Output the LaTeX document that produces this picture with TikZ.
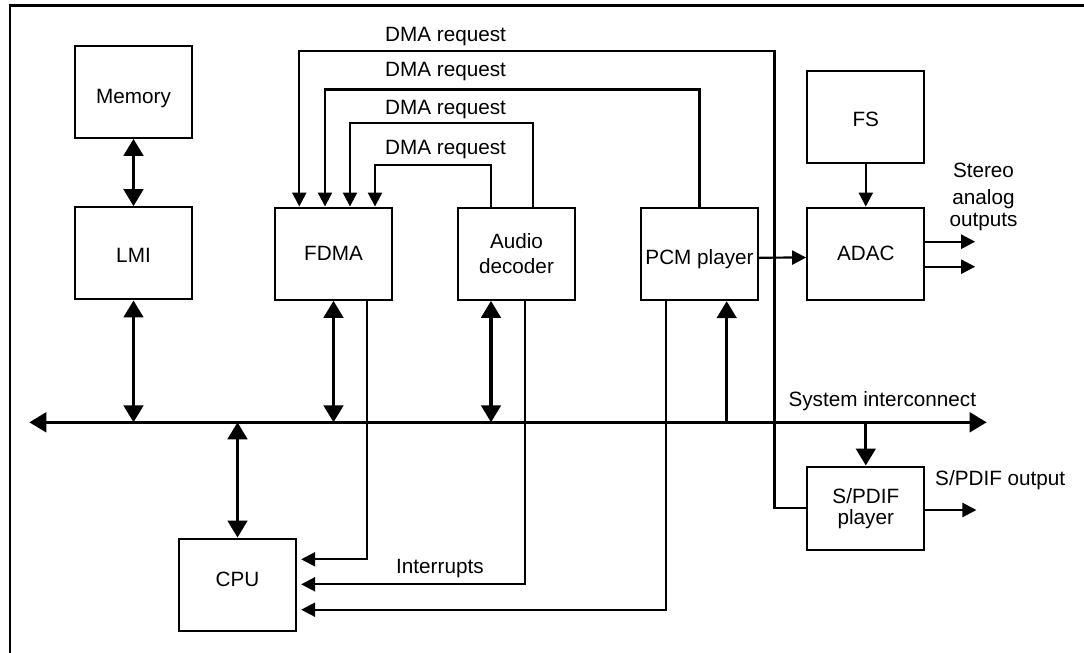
\documentclass[tikz,border=0pt]{standalone}
\usepackage{fontspec}
\setmainfont{Liberation Sans}
\usetikzlibrary{arrows.meta,calc}
\begin{document}
\begin{tikzpicture}[x=1pt,y=-1pt,
  box/.style={draw, line width=2.3pt, minimum width=117pt, minimum height=92pt, inner sep=2pt, align=center, font=\fontsize{20.7}{24.5}\selectfont},
  tpos/.style={text depth=0pt, text height=#1},
  lbl/.style={inner sep=0pt, font=\fontsize{20.7}{22.5}\selectfont},
  thkboth/.style={line width=3.3pt, >={Triangle[length=17pt,width=19.5pt]}, <->},
  thkone/.style={line width=3.3pt, >={Triangle[length=17pt,width=19.5pt]}, ->},
  sig/.style={line width=2.2pt, >={Triangle[length=14pt,width=14pt]}, ->}
]
\useasboundingbox (0,0) rectangle (1084,653);
% frame
\draw[line width=2.5pt] (10,653) -- (10,5.5) -- (1084,5.5);

% blocks
\node[box, tpos=23.4pt] (mem) at (133.5,91.7) {Memory};
\node[box, tpos=17.6pt] (lmi) at (133.5,253.3) {LMI};
\node[box, tpos=13.8pt] (fdma) at (333.5,253.7) {FDMA};
\node[box] (aud) at (516.5,253.7) {Audio\\decoder};
\node[box, tpos=20.2pt] (pcm) at (699.5,254) {PCM player};
\node[box, tpos=13.6pt] (adac) at (865.8,253.8) {ADAC};
\node[box, tpos=19.8pt] (fs) at (865.8,117) {FS};
\node[box, minimum height=83.3pt, font=\fontsize{20.7}{21}\selectfont] (spdif) at (865.8,508.3) {S/PDIF\\player};
\node[box, tpos=3.4pt, minimum width=117.6pt] (cpu) at (237.5,584.7) {CPU};

% system interconnect bus
\coordinate (busL) at (29.3,422.3);
\coordinate (busR) at (986.7,422.3);
\draw[thkboth] (busL) -- (busR);
\node[lbl, anchor=base west] (sysl) at (788.3,406.7) {System interconnect};

% bus connections
\draw[thkboth] (mem) -- (lmi);
\draw[thkboth] (lmi.south) -- (lmi.south |- busL);
\draw[thkboth] (fdma.south) -- (fdma.south |- busL);
\coordinate (audtap) at ($(aud.south)+(-25.5,0)$);
\draw[thkboth] (audtap) -- (audtap |- busL);
\draw[thkboth] (cpu.north) -- (cpu.north |- busL);
\coordinate (pcmtap) at ($(pcm.south)+(27.2,0)$);
\draw[thkone] (pcmtap |- busL) -- (pcmtap);
\draw[thkone] (spdif.north |- busL) -- (spdif.north);

% DMA requests
\draw[sig] (spdif.west) -- ++(-31.7,0) -- ++(0,-457.3) -| ($(fdma.north)+(-34.2,0)$);
\draw[sig] (pcm.north) -- ++(0,-117.3) -| ($(fdma.north)+(-8.5,0)$);
\draw[sig] ($(aud.north)+(16.8,0)$) -- ++(0,-83.7) -| ($(fdma.north)+(16.5,0)$);
\draw[sig] ($(aud.north)+(-25.8,0)$) -- ++(0,-41.7) -| ($(fdma.north)+(41.5,0)$);
\node[lbl, anchor=base west] (dma1) at (385,41.7) {DMA request};
\node[lbl, anchor=base west] (dma2) at (385,76) {DMA request};
\node[lbl, anchor=base west] (dma3) at (385,114.3) {DMA request};
\node[lbl, anchor=base west] (dma4) at (385,154) {DMA request};

% interrupts
\draw[sig] ($(fdma.south)+(33.2,0)$) |- ($(cpu.east)+(3.7,-25.4)$);
\draw[sig] ($(aud.south)+(8.5,0)$) |- ($(cpu.east)+(3.7,-0.4)$);
\draw[sig] ($(pcm.south)+(-33.5,0)$) |- ($(cpu.east)+(3.7,25)$);
\node[lbl, anchor=base west] (intl) at (396,573.3) {Interrupts};

% audio path
\draw[sig] (fs) -- (adac);
\draw[sig] ($(pcm.east)+(0,3.7)$) -- ($(adac.west)+(0,3.7)$);
\coordinate (o1) at ($(adac.east)+(49.7,-12.1)$);
\coordinate (o2) at ($(adac.east)+(49.7,12.9)$);
\draw[sig] (adac.east |- o1) -- (o1);
\draw[sig] (adac.east |- o2) -- (o2);
\node[lbl, align=center, anchor=north] (stereo) at (983.5,163.3) {Stereo\\[4pt]analog\\outputs};

% S/PDIF output
\coordinate (o3) at ($(spdif.east)+(51,1.7)$);
\draw[sig] (spdif.east |- o3) -- (o3);
\node[lbl, anchor=base west] (spdo) at (935,485) {S/PDIF output};
\end{tikzpicture}
\end{document}
